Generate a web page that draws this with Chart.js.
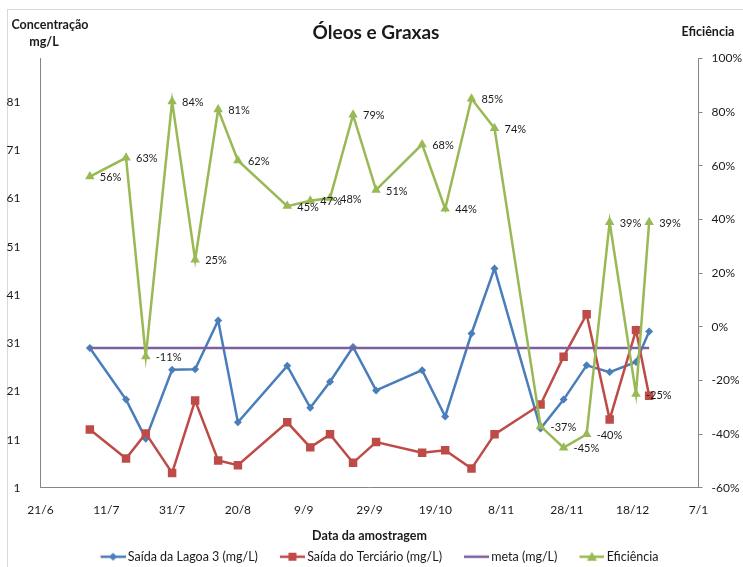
<!DOCTYPE html>
<html>
<head>
<meta charset="utf-8">
<script src="https://cdn.jsdelivr.net/npm/chart.js@4.4.0/dist/chart.umd.min.js"></script>
<style>
html,body{margin:0;padding:0;background:#fff;}
#wrap{width:743px;height:567px;position:relative;}
canvas{display:block;}
</style>
</head>
<body>
<div id="wrap"><canvas id="chart" width="743" height="567"></canvas></div>
<script>
// sample dates (d/m), 21/6 is day 0 of the x axis
const dates=["6/7","17/7","23/7","31/7","7/8","14/8","20/8","4/9","11/9","17/9","24/9","1/10","15/10","22/10","30/10","6/11","20/11","27/11","4/12","11/12","19/12","23/12"];
const lagoa=[30,19.3,11.2,25.5,25.6,35.7,14.6,26.3,17.6,23.0,30.2,21.2,25.4,15.8,33.0,46.5,13.3,19.3,26.4,25.0,27.1,33.4];
const terciario=[13.1,7.1,12.3,4.1,19.1,6.7,5.7,14.6,9.4,12.1,6.2,10.5,8.3,8.8,5.0,12.1,18.3,28.2,37.0,15.2,33.7,20.1];
const meta=[30,30,30,30,30,30,30,30,30,30,30,30,30,30,30,30,30,30,30,30,30,30];
const eficiencia=[56,63,-11,84,25,81,62,45,47,48,79,51,68,44,85,74,-37,-45,-40,39,-25,39];
const xTickLabels=["21/6","11/7","31/7","20/8","9/9","29/9","19/10","8/11","28/11","18/12","7/1"];
const leftTicks=[1,11,21,31,41,51,61,71,81];

const FONT="Lato";
const TXT="#1a1a1a";
const AXIS="#868686";
const BLUE="#4A7EBB",RED="#BE4B48",PURPLE="#7D5FA0",GREEN="#98B954";

function dayOf(s){
  let [d,m]=s.split("/").map(Number);
  let y=m<6?2011:2010;
  return Math.round((Date.UTC(y,m-1,d)-Date.UTC(2010,5,21))/864e5);
}
function pts(vals){
  return dates.map((s,i)=>({x:dayOf(s),y:vals[i]}));
}

// legend icons: line with the marker in the middle, padded on the left
function legendIcon(color,shape){
  let c=document.createElement("canvas");
  c.width=45;c.height=12;
  let g=c.getContext("2d");
  let x0=20,x1=45,cx=32.5,cy=6;
  g.strokeStyle=color;g.lineWidth=2.5;
  g.beginPath();g.moveTo(x0,cy);g.lineTo(x1,cy);g.stroke();
  g.fillStyle=color;
  g.beginPath();
  if(shape==="diamond"){g.moveTo(cx-4,cy);g.lineTo(cx,cy-4);g.lineTo(cx+4,cy);g.lineTo(cx,cy+4);}
  else if(shape==="square"){g.rect(cx-4,cy-4,8,8);}
  else if(shape==="triangle"){g.moveTo(cx,cy-5);g.lineTo(cx+5,cy+4);g.lineTo(cx-5,cy+4);}
  g.closePath();
  if(shape) g.fill();
  return c;
}
const icons=[legendIcon(BLUE,"diamond"),legendIcon(RED,"square"),legendIcon(PURPLE,null),legendIcon(GREEN,"triangle")];

const decor={
  id:"decor",
  beforeDraw(chart){
    let ctx=chart.ctx;
    ctx.save();
    ctx.fillStyle="#fff";ctx.fillRect(0,0,chart.width,chart.height);
    ctx.strokeStyle="#d9d9d9";ctx.lineWidth=1;
    ctx.strokeRect(7.5,9.5,800,800);
    ctx.fillStyle=TXT;ctx.textAlign="center";ctx.textBaseline="middle";
    ctx.font="bold 19px "+FONT;
    ctx.fillText("Óleos e Graxas",376,33);
    ctx.font="bold 12.5px "+FONT;
    ctx.fillText("Concentração",50,25);
    ctx.fillText("mg/L",44,42);
    ctx.fillText("Eficiência",708,32);
    ctx.restore();
  },
  afterDatasetsDraw(chart){
    let ctx=chart.ctx;
    let m=chart.getDatasetMeta(3);
    ctx.save();
    ctx.fillStyle=TXT;ctx.font="11px "+FONT;
    ctx.textAlign="left";ctx.textBaseline="middle";
    m.data.forEach((p,i)=>{
      ctx.fillText(eficiencia[i]+"%",p.x+10,p.y+1);
    });
    ctx.restore();
  }
};

new Chart(document.getElementById("chart"),{
  type:"line",
  data:{
    datasets:[
      {label:"Saída da Lagoa 3 (mg/L)",data:pts(lagoa),yAxisID:"y",borderColor:BLUE,backgroundColor:BLUE,
       borderWidth:2.5,pointStyle:"rectRot",pointRadius:4,pointBorderWidth:0,order:4},
      {label:"Saída do Terciário (mg/L)",data:pts(terciario),yAxisID:"y",borderColor:RED,backgroundColor:RED,
       borderWidth:2.5,pointStyle:"rect",pointRadius:6,pointBorderWidth:0,order:3},
      {label:"meta (mg/L)",data:pts(meta),yAxisID:"y",borderColor:PURPLE,backgroundColor:PURPLE,
       borderWidth:2.5,pointRadius:0,order:2},
      {label:"Eficiência",data:pts(eficiencia),yAxisID:"y1",borderColor:GREEN,backgroundColor:GREEN,
       borderWidth:2.5,pointStyle:"triangle",pointRadius:5.5,pointBorderWidth:0,order:1}
    ]
  },
  options:{
    responsive:false,
    animation:false,
    devicePixelRatio:1,
    layout:{padding:{top:58.5,left:0,right:0,bottom:-6}},
    plugins:{
      title:{display:false},
      tooltip:{enabled:false},
      legend:{
        position:"bottom",
        labels:{
          usePointStyle:true,pointStyleWidth:37,padding:6,
          color:TXT,font:{family:FONT,size:12.5},
          sort:(a,b)=>a.datasetIndex-b.datasetIndex,
          generateLabels(chart){
            let items=Chart.defaults.plugins.legend.labels.generateLabels(chart);
            items.forEach(it=>{it.pointStyle=icons[it.datasetIndex];});
            return items;
          }
        }
      }
    },
    scales:{
      x:{
        type:"linear",min:0,max:200,
        grid:{display:false},
        border:{display:true,color:AXIS,width:1},
        ticks:{stepSize:20,autoSkip:false,maxRotation:0,padding:7,color:TXT,font:{family:FONT,size:12},
          callback:v=>xTickLabels[Math.round(v/20)]},
        title:{display:true,text:"Data da amostragem",color:TXT,font:{family:FONT,size:12.5,weight:"bold"},padding:{top:0,bottom:1}},
        afterFit:s=>{s.height=56.6;}
      },
      y:{
        type:"linear",position:"left",min:1,max:90,
        grid:{display:false},
        border:{display:true,color:AXIS,width:1},
        ticks:{autoSkip:false,padding:12,color:TXT,font:{family:FONT,size:12}},
        afterBuildTicks:s=>{s.ticks=leftTicks.map(v=>({value:v}));},
        afterFit:s=>{s.width=40.5;}
      },
      y1:{
        type:"linear",position:"right",min:-60,max:100,
        grid:{drawOnChartArea:false,drawTicks:true,tickLength:4,color:AXIS},
        border:{display:true,color:AXIS,width:1},
        ticks:{stepSize:20,autoSkip:false,padding:9,color:TXT,font:{family:FONT,size:12},
          callback:v=>v+"%"},
        afterFit:s=>{s.width=44.5;}
      }
    }
  },
  plugins:[decor]
});
</script>
</body>
</html>
